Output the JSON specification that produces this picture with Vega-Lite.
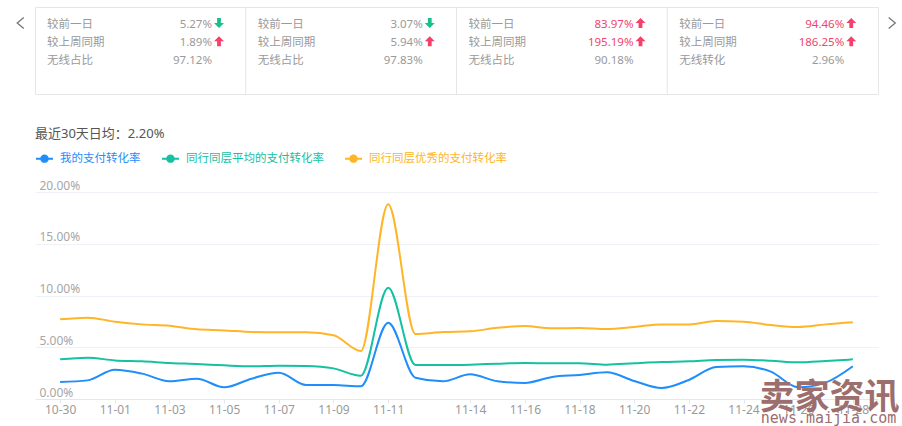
{
  "$schema": "https://vega.github.io/schema/vega-lite/v6.json",
  "background": "white",
  "padding": {"left": 14, "top": 6, "right": 0, "bottom": 0},
  "bounds": "flush",
  "spacing": 98,
  "resolve": {"legend": {"color": "independent"}},
  "config": {
    "view": {"stroke": null},
    "font": "Noto Sans, Noto Sans CJK SC",
    "text": {"font": "Noto Sans, Noto Sans CJK SC"}
  },
  "vconcat": [
    {
      "width": 843,
      "height": 87,
      "view": {"stroke": "#e6e6e6"},
      "data": {
        "values": [
          {"card": 1, "row": 1, "label": "较前一日", "value": "5.27%", "pct": 5.27, "dir": "down"},
          {"card": 1, "row": 2, "label": "较上周同期", "value": "1.89%", "pct": 1.89, "dir": "up"},
          {"card": 1, "row": 3, "label": "无线占比", "value": "97.12%", "pct": 97.12, "dir": "none"},
          {"card": 2, "row": 1, "label": "较前一日", "value": "3.07%", "pct": 3.07, "dir": "down"},
          {"card": 2, "row": 2, "label": "较上周同期", "value": "5.94%", "pct": 5.94, "dir": "up"},
          {"card": 2, "row": 3, "label": "无线占比", "value": "97.83%", "pct": 97.83, "dir": "none"},
          {"card": 3, "row": 1, "label": "较前一日", "value": "83.97%", "pct": 83.97, "dir": "up"},
          {"card": 3, "row": 2, "label": "较上周同期", "value": "195.19%", "pct": 195.19, "dir": "up"},
          {"card": 3, "row": 3, "label": "无线占比", "value": "90.18%", "pct": 90.18, "dir": "none"},
          {"card": 4, "row": 1, "label": "较前一日", "value": "94.46%", "pct": 94.46, "dir": "up"},
          {"card": 4, "row": 2, "label": "较上周同期", "value": "186.25%", "pct": 186.25, "dir": "up"},
          {"card": 4, "row": 3, "label": "无线转化", "value": "2.96%", "pct": 2.96, "dir": "none"}
        ]
      },
      "layer": [
        {
          "transform": [{"filter": "datum.row === 1 && datum.card > 1"}],
          "mark": {"type": "rule", "color": "#e6e6e6", "strokeWidth": 1},
          "encoding": {
            "x": {"field": "card", "type": "ordinal", "bandPosition": 0, "scale": {"type": "band", "paddingInner": 0, "paddingOuter": 0}, "axis": null}
          }
        },
        {
          "mark": {"type": "text", "align": "left", "baseline": "middle", "dx": 12, "dy": 1.5, "fontSize": 11.5, "color": "#9a9a9a"},
          "encoding": {
            "x": {"field": "card", "type": "ordinal", "bandPosition": 0, "axis": null},
            "y": {"field": "row", "type": "ordinal", "scale": {"type": "point", "domain": [1, 2, 3, 4], "padding": 0.873}, "axis": null},
            "text": {"field": "label"}
          }
        },
        {
          "mark": {"type": "text", "align": "right", "baseline": "middle", "dx": 177, "dy": 1.5, "fontSize": 11.5},
          "encoding": {
            "x": {"field": "card", "type": "ordinal", "bandPosition": 0, "axis": null},
            "y": {"field": "row", "type": "ordinal", "axis": null},
            "text": {"field": "value"},
            "color": {"condition": {"test": "datum.dir === 'up' && datum.pct > 50", "value": "#f0446d"}, "value": "#9a9a9a"}
          }
        },
        {
          "transform": [{"filter": "datum.dir !== 'none'"}],
          "mark": {"type": "point", "filled": true, "size": 100, "opacity": 1, "xOffset": 184},
          "encoding": {
            "x": {"field": "card", "type": "ordinal", "bandPosition": 0, "axis": null},
            "y": {"field": "row", "type": "ordinal", "axis": null},
            "shape": {"field": "dir", "type": "nominal", "scale": {"domain": ["up", "down"], "range": ["M0,-1L1,0H0.38V1H-0.38V0H-1Z", "M0,1L1,0H0.38V-1H-0.38V0H-1Z"]}, "legend": null},
            "color": {"condition": {"test": "datum.dir === 'up'", "value": "#f5406a"}, "value": "#17c18b"}
          }
        },
        {
          "transform": [{"filter": "datum.row === 1 && datum.card === 1"}],
          "mark": {"type": "point", "filled": false, "size": 121, "opacity": 1, "stroke": "#777777", "strokeWidth": 1.3, "shape": "M0.6,-1L-0.6,0L0.6,1", "xOffset": -14.5},
          "encoding": {
            "x": {"field": "card", "type": "ordinal", "bandPosition": 0, "axis": null},
            "y": {"field": "row", "type": "ordinal", "axis": null}
          }
        },
        {
          "transform": [{"filter": "datum.row === 1 && datum.card === 4"}],
          "mark": {"type": "point", "filled": false, "size": 121, "opacity": 1, "stroke": "#777777", "strokeWidth": 1.3, "shape": "M-0.6,-1L0.6,0L-0.6,1", "xOffset": 14},
          "encoding": {
            "x": {"field": "card", "type": "ordinal", "bandPosition": 1, "axis": null},
            "y": {"field": "row", "type": "ordinal", "axis": null}
          }
        }
      ]
    },
    {
      "width": 843,
      "height": 207,
      "title": {"text": "最近30天日均：2.20%", "anchor": "start", "fontSize": 13, "fontWeight": "normal", "color": "#555555", "offset": 8},
      "data": {
        "values": [
          {"date": "10-30", "我的支付转化率": 1.64, "同行同层平均的支付转化率": 3.83, "同行同层优秀的支付转化率": 7.70},
          {"date": "10-31", "我的支付转化率": 1.80, "同行同层平均的支付转化率": 3.99, "同行同层优秀的支付转化率": 7.86},
          {"date": "11-01", "我的支付转化率": 2.83, "同行同层平均的支付转化率": 3.73, "同行同层优秀的支付转化率": 7.47},
          {"date": "11-02", "我的支付转化率": 2.45, "同行同层平均的支付转化率": 3.64, "同行同层优秀的支付转化率": 7.21},
          {"date": "11-03", "我的支付转化率": 1.71, "同行同层平均的支付转化率": 3.48, "同行同层优秀的支付转化率": 7.08},
          {"date": "11-04", "我的支付转化率": 1.96, "同行同层平均的支付转化率": 3.38, "同行同层优秀的支付转化率": 6.73},
          {"date": "11-05", "我的支付转化率": 1.13, "同行同层平均的支付转化率": 3.25, "同行同层优秀的支付转化率": 6.63},
          {"date": "11-06", "我的支付转化率": 1.96, "同行同层平均的支付转化率": 3.16, "同行同层优秀的支付转化率": 6.47},
          {"date": "11-07", "我的支付转化率": 2.54, "同行同层平均的支付转化率": 3.22, "同行同层优秀的支付转化率": 6.44},
          {"date": "11-08", "我的支付转化率": 1.35, "同行同层平均的支付转化率": 3.19, "同行同层优秀的支付转化率": 6.44},
          {"date": "11-09", "我的支付转化率": 1.35, "同行同层平均的支付转化率": 2.96, "同行同层优秀的支付转化率": 6.15},
          {"date": "11-10", "我的支付转化率": 1.22, "同行同层平均的支付转化率": 2.25, "同行同层优秀的支付转化率": 4.64},
          {"date": "11-11", "我的支付转化率": 7.37, "同行同层平均的支付转化率": 10.76, "同行同层优秀的支付转化率": 18.81},
          {"date": "11-12", "我的支付转化率": 2.06, "同行同层平均的支付转化率": 3.28, "同行同层优秀的支付转化率": 6.28},
          {"date": "11-13", "我的支付转化率": 1.71, "同行同层平均的支付转化率": 3.28, "同行同层优秀的支付转化率": 6.47},
          {"date": "11-14", "我的支付转化率": 2.38, "同行同层平均的支付转化率": 3.32, "同行同层优秀的支付转化率": 6.54},
          {"date": "11-15", "我的支付转化率": 1.71, "同行同层平均的支付转化率": 3.41, "同行同层优秀的支付转化率": 6.89},
          {"date": "11-16", "我的支付转化率": 1.55, "同行同层平均的支付转化率": 3.48, "同行同层优秀的支付转化率": 7.05},
          {"date": "11-17", "我的支付转化率": 2.13, "同行同层平均的支付转化率": 3.45, "同行同层优秀的支付转化率": 6.83},
          {"date": "11-18", "我的支付转化率": 2.32, "同行同层平均的支付转化率": 3.45, "同行同层优秀的支付转化率": 6.86},
          {"date": "11-19", "我的支付转化率": 2.58, "同行同层平均的支付转化率": 3.32, "同行同层优秀的支付转化率": 6.76},
          {"date": "11-20", "我的支付转化率": 1.74, "同行同层平均的支付转化率": 3.45, "同行同层优秀的支付转化率": 6.96},
          {"date": "11-21", "我的支付转化率": 1.06, "同行同层平均的支付转化率": 3.57, "同行同层优秀的支付转化率": 7.21},
          {"date": "11-22", "我的支付转化率": 1.84, "同行同层平均的支付转化率": 3.64, "同行同层优秀的支付转化率": 7.21},
          {"date": "11-23", "我的支付转化率": 3.09, "同行同层平均的支付转化率": 3.77, "同行同层优秀的支付转化率": 7.54},
          {"date": "11-24", "我的支付转化率": 3.16, "同行同层平均的支付转化率": 3.80, "同行同层优秀的支付转化率": 7.47},
          {"date": "11-25", "我的支付转化率": 2.64, "同行同层平均的支付转化率": 3.70, "同行同层优秀的支付转化率": 7.15},
          {"date": "11-26", "我的支付转化率": 1.13, "同行同层平均的支付转化率": 3.54, "同行同层优秀的支付转化率": 6.96},
          {"date": "11-27", "我的支付转化率": 1.58, "同行同层平均的支付转化率": 3.67, "同行同层优秀的支付转化率": 7.21},
          {"date": "11-28", "我的支付转化率": 3.16, "同行同层平均的支付转化率": 3.83, "同行同层优秀的支付转化率": 7.41}
        ]
      },
      "layer": [
        {
          "transform": [{"fold": ["我的支付转化率", "同行同层平均的支付转化率", "同行同层优秀的支付转化率"], "as": ["series", "rate"]}],
          "mark": {"type": "line", "interpolate": "monotone", "strokeWidth": 2},
          "encoding": {
            "x": {
              "field": "date", "type": "ordinal", "sort": null,
              "scale": {"type": "point", "padding": 0.92},
              "axis": {
                "title": null, "labelAngle": 0,
                "values": ["10-30", "11-01", "11-03", "11-05", "11-07", "11-09", "11-11", "11-14", "11-16", "11-18", "11-20", "11-22", "11-24", "11-26", "11-28"],
                "tickSize": 4, "tickColor": "#e3e7f0", "domainColor": "#e3e7f0",
                "labelColor": "#9a9a9a", "labelFontSize": 12, "labelPadding": 1, "grid": false
              }
            },
            "y": {
              "field": "rate", "type": "quantitative",
              "scale": {"domain": [0, 20], "nice": false},
              "axis": {
                "title": null, "values": [0, 5, 10, 15, 20],
                "labelExpr": "format(datum.value, '.2f') + '%'",
                "labelAlign": "left", "labelPadding": -4, "ticks": false, "domain": false,
                "labelBaseline": "alphabetic", "labelOffset": -3,
                "labelColor": "#a6a6a6", "labelFontSize": 12,
                "grid": true, "gridColor": "#eef1f7"
              }
            },
            "color": {
              "field": "series", "type": "nominal",
              "scale": {"domain": ["我的支付转化率", "同行同层平均的支付转化率", "同行同层优秀的支付转化率"], "range": ["#1f8efa", "#14c1a0", "#ffb527"]},
              "legend": {
                "orient": "top", "direction": "horizontal", "title": null,
                "symbolType": "M-1,0H-0.38M0.38,0H1M-0.38,0A0.38,0.38 0 1,1 0.38,0A0.38,0.38 0 1,1 -0.38,0Z",
                "symbolSize": 289, "symbolStrokeWidth": 2,
                "labelFontSize": 11.5, "labelOffset": 6, "columnPadding": 17, "offset": 26,
                "encode": {
                  "labels": {"update": {"fill": {"scale": "color", "field": "value"}}},
                  "symbols": {"update": {"fill": {"scale": "color", "field": "value"}, "opacity": {"value": 1}}}
                }
              }
            }
          }
        },
        {
          "data": {"values": [{"brand": "卖家资讯", "site": "news.maijia.com"}]},
          "layer": [
            {
              "mark": {"type": "text", "font": "Noto Sans CJK SC", "fontSize": 35, "fontWeight": "bold", "color": "#9c6e6e", "align": "center", "baseline": "middle", "dx": 4, "dy": -1},
              "encoding": {
                "x": {"datum": "11-27", "type": "ordinal"},
                "y": {"datum": 0, "type": "quantitative"},
                "text": {"field": "brand"}
              }
            },
            {
              "mark": {"type": "text", "font": "DejaVu Sans Mono", "fontSize": 15, "color": "#9c6e6e", "align": "center", "baseline": "alphabetic", "dx": 3, "dy": 24},
              "encoding": {
                "x": {"datum": "11-27", "type": "ordinal"},
                "y": {"datum": 0, "type": "quantitative"},
                "text": {"field": "site"}
              }
            }
          ]
        }
      ]
    }
  ]
}
